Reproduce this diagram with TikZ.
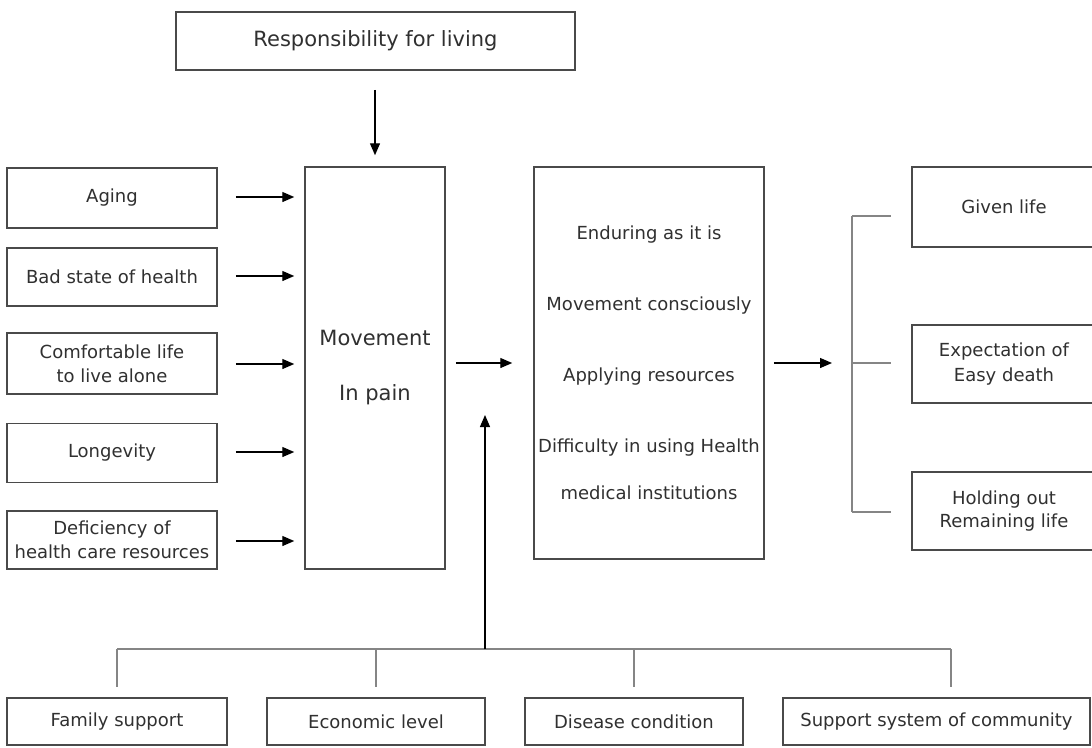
\documentclass[tikz,border=0pt]{standalone}
\usepackage{fontspec}
\setmainfont{DejaVu Sans}
\usetikzlibrary{arrows.meta}
\definecolor{boxline}{HTML}{4A4A4A}
\definecolor{txt}{HTML}{303030}
\definecolor{busline}{HTML}{858585}
\tikzset{
  box/.style={draw=boxline, line width=1.5pt, fill=white, inner sep=0pt, text=txt, align=center,
    font=\fontsize{18}{22}\selectfont},
  bigfont/.style={font=\fontsize{21}{25}\selectfont},
  arr/.style={draw=black, line width=1.3pt, -{Triangle[length=12pt,width=10pt]}},
  bus/.style={draw=busline, line width=2.2pt},
}
\begin{document}
\begin{tikzpicture}[x=1pt,y=-1pt]
\useasboundingbox (0,0) rectangle (1092,747);
% top
\node[box, bigfont, minimum width=399pt, minimum height=58pt] (resp) at (375.5,41) {Responsibility for living};
% left boxes
\node[box, minimum width=210pt, minimum height=60pt] (aging) at (112,198) {Aging};
\node[box, minimum width=210pt, minimum height=58pt] (bad) at (112,277) {Bad state of health};
\node[box, minimum width=210pt, minimum height=61pt, font=\fontsize{18}{24}\selectfont] (comf) at (112,363.5) {Comfortable life\\to live alone};
\node[box, minimum width=210pt, minimum height=59pt] (long) at (112,453) {Longevity};
\node[box, minimum width=210pt, minimum height=58pt, font=\fontsize{18}{24}\selectfont] (defi) at (112,540) {Deficiency of\\health care resources};
% movement
\node[box, minimum width=140pt, minimum height=402pt, font=\fontsize{21}{55}\selectfont] (mov) at (375,368) {Movement\\In pain};
% middle
\node[box, minimum width=230pt, minimum height=392pt, font=\fontsize{18}{71}\selectfont] (mid) at (649,363)
  {Enduring as it is\\Movement consciously\\Applying resources\\Difficulty in using Health\\[-24pt]medical institutions};
% right boxes
\node[box, minimum width=184pt, minimum height=80pt] (given) at (1004,207) {Given life};
\node[box, minimum width=184pt, minimum height=78pt, font=\fontsize{18}{25}\selectfont] (expe) at (1004,364) {Expectation of\\Easy death};
\node[box, minimum width=184pt, minimum height=78pt, font=\fontsize{18}{23}\selectfont] (hold) at (1004,511) {Holding out\\Remaining life};
% bottom boxes
\node[box, minimum width=220pt, minimum height=47pt] (fam) at (117,721.5) {Family support};
\node[box, minimum width=218pt, minimum height=47pt] (eco) at (376,721.5) {Economic level};
\node[box, minimum width=218pt, minimum height=47pt] (dis) at (634,721.5) {Disease condition};
\node[box, minimum width=307pt, minimum height=47pt] (sup) at (936.5,721.5) {Support system of community};

% arrows
\draw[arr, shorten <=19pt, shorten >=11pt] (resp.south -| mov.north) -- (mov.north);
\foreach \n/\yy in {aging/197,bad/276,comf/364,long/452,defi/541}{
  \draw[arr, shorten <=18pt, shorten >=10pt] (\n.east |- 0,\yy) -- (mov.west |- 0,\yy);
}
\draw[arr, shorten <=10pt, shorten >=21pt] (mid.west -| mov.east) -- (mid.west);
\coordinate (brm) at (852,363);
\coordinate (brt) at (852,216);
\coordinate (brb) at (852,512);
\draw[arr, shorten <=9pt, shorten >=20pt] (mid.east) -- (brm);
\draw[bus] (brt) -- (brb);
\draw[bus] (brt) -- ([xshift=-20pt]given.west |- brt);
\draw[bus] (brm) -- ([xshift=-20pt]expe.west |- brm);
\draw[bus] (brb) -- ([xshift=-20pt]hold.west |- brb);
% bottom bus
\coordinate (busl) at (117,649);
\coordinate (busr) at (951,649);
\coordinate (busm) at (485,649);
\draw[bus] (busl) -- (busr);
\draw[bus] (busl) -- ([yshift=10pt]fam.north -| busl);
\draw[bus] (eco.north |- busl) -- ([yshift=10pt]eco.north);
\draw[bus] (dis.north |- busl) -- ([yshift=10pt]dis.north);
\draw[bus] (busr) -- ([yshift=10pt]sup.north -| busr);
\draw[arr] (busm) -- (485,415);
\end{tikzpicture}
\end{document}
